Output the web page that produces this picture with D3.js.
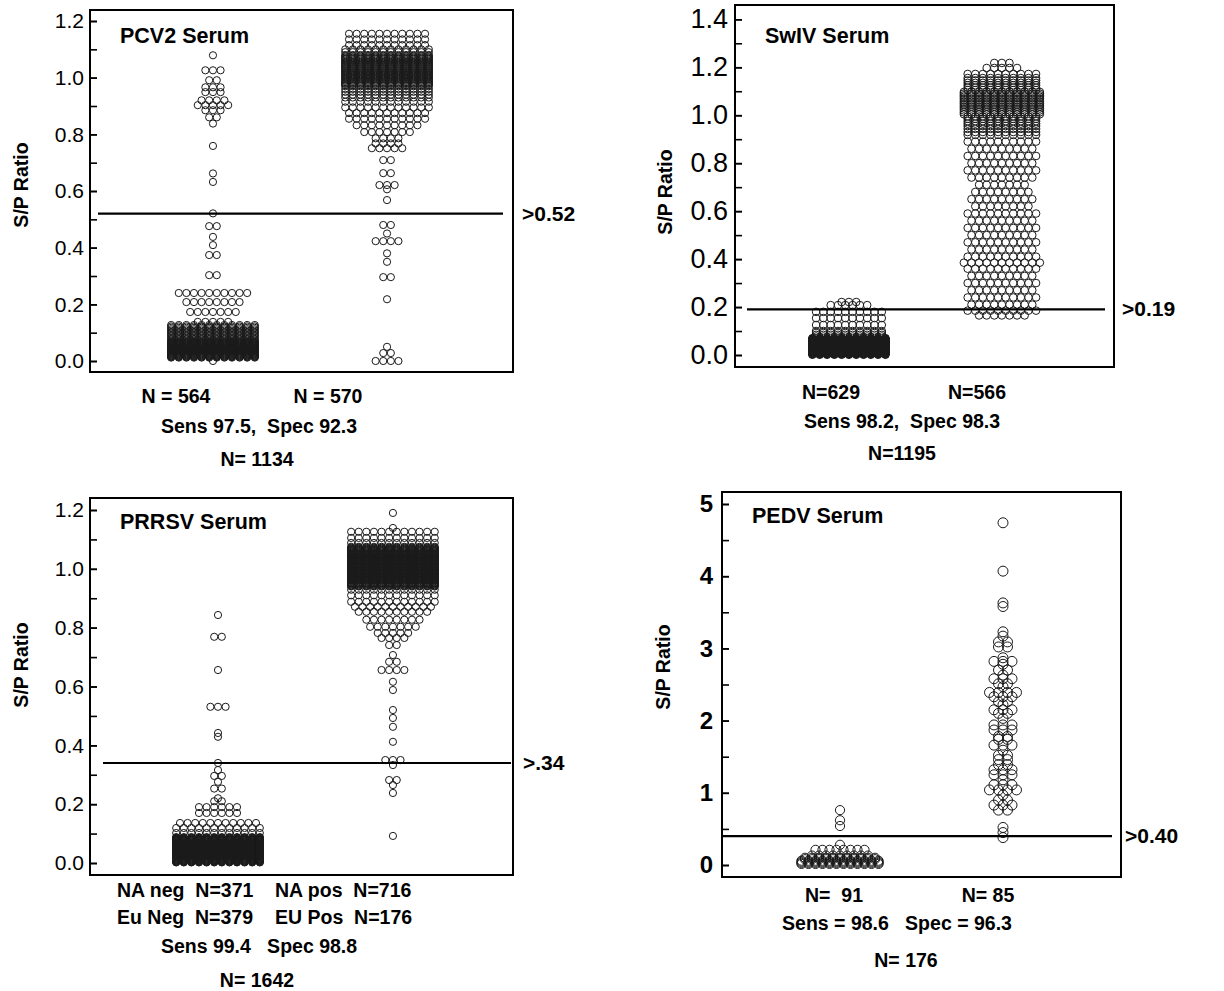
<!DOCTYPE html>
<html>
<head>
<meta charset="utf-8">
<script src="https://cdn.jsdelivr.net/npm/d3@7"></script>
<style>
body { margin: 0; background: #fff; }
text { font-family: "Liberation Sans", Arial, sans-serif; fill: #000; }
</style>
</head>
<body>
<svg id="chart" width="1224" height="991"></svg>
<script>
// each group is a list of [S/P value, number of samples at that value]
// (rows; dense bands are estimated row by row)

// ---- PCV2 ----
var pcv2Cats = ["neg", "pos"];
var pcv2Neg = [
  [1.079,1],[1.026,3],[0.991,2],[0.966,3],[0.949,3],[0.920,4],[0.903,5],[0.885,3],[0.860,2],[0.838,1],
  [0.759,1],[0.662,1],[0.632,1],[0.521,1],[0.476,2],[0.438,1],[0.409,1],[0.374,2],[0.303,2],
  [0.240,10],[0.208,8],[0.173,7],[0.138,5],
  [0.127,12],[0.122,12],[0.117,12],[0.112,12],[0.107,12],[0.102,12],[0.097,12],[0.092,12],[0.087,12],[0.082,12],[0.077,12],[0.072,12],
  [0.068,12],[0.066,12],[0.064,12],[0.062,12],[0.060,12],[0.058,12],[0.056,12],[0.054,12],[0.052,12],[0.050,12],
  [0.048,12],[0.046,12],[0.044,12],[0.042,12],[0.040,12],[0.038,12],[0.036,12],[0.034,12],[0.032,12],[0.030,12],
  [0.028,12],[0.026,12],[0.024,12],[0.022,12],[0.020,12],[0.018,12],[0.016,12],[0.014,12],[0.012,12],
  [0.000,1]
];
var pcv2Pos = [
  [0.000,4],[0.028,2],[0.050,1],[0.218,1],[0.296,2],[0.350,1],[0.380,1],[0.423,4],[0.450,1],[0.480,2],
  [0.568,1],[0.606,1],[0.621,3],[0.663,2],[0.709,2],[0.751,5],[0.768,4],[0.786,4],[0.808,7],[0.832,9],
  [0.855,11],[0.875,11],[0.895,12],[0.915,12],[0.930,12],[0.940,12],[0.950,12],[0.960,12],
  [0.970,12],[0.974,12],[0.978,12],[0.981,12],[0.985,12],[0.989,12],[0.993,12],[0.996,12],[1.000,12],[1.004,12],
  [1.008,12],[1.011,12],[1.015,12],[1.019,12],[1.023,12],[1.026,12],[1.030,12],[1.034,12],[1.038,12],[1.041,12],
  [1.045,12],[1.049,12],[1.053,12],[1.056,12],[1.060,12],[1.064,12],[1.068,12],[1.071,12],[1.075,12],
  [1.080,12],[1.090,12],[1.100,12],[1.115,11],[1.135,11],[1.155,11]
];
var pcv2Minor = [0,0.1,0.2,0.3,0.4,0.5,0.6,0.7,0.8,0.9,1.0,1.1,1.2];
var pcv2Major = [0,0.2,0.4,0.6,0.8,1.0,1.2];
var pcv2Cut = 0.52;
var pcv2Notes = ["N = 564", "N = 570", "Sens 97.5,  Spec 92.3", "N= 1134"];

// ---- SwIV ----
var swivCats = ["neg", "pos"];
var swivNeg = [
  [0.221,3],[0.208,6],[0.180,10],[0.154,10],[0.125,10],[0.100,10],[0.092,10],[0.084,10],[0.077,10],
  [0.070,11],[0.069,11],[0.067,11],[0.066,11],[0.064,11],[0.063,11],[0.062,11],[0.060,11],[0.059,11],[0.057,11],
  [0.056,11],[0.055,11],[0.053,11],[0.052,11],[0.050,11],[0.049,11],[0.048,11],[0.046,11],[0.045,11],[0.043,11],
  [0.042,11],[0.041,11],[0.039,11],[0.038,11],[0.036,11],[0.035,11],[0.034,11],[0.032,11],[0.031,11],[0.029,11],
  [0.028,11],[0.027,11],[0.025,11],[0.024,11],[0.022,11],[0.021,11],[0.020,11],[0.018,11],[0.017,11],[0.015,11],
  [0.014,11],[0.013,11],[0.011,11],[0.010,11],[0.008,11],[0.007,11],[0.006,11],[0.004,11],[0.003,11],[0.001,11]
];
var swivPos = [
  [0.165,7],[0.185,10],[0.210,9],[0.240,10],[0.270,9],[0.300,10],[0.330,9],[0.360,10],[0.385,11],[0.410,10],
  [0.440,9],[0.470,10],[0.500,9],[0.530,10],[0.560,9],[0.590,10],[0.620,8],[0.650,9],[0.680,8],[0.710,7],
  [0.740,9],[0.770,10],[0.800,9],[0.830,10],[0.860,9],[0.890,10],
  [0.918,10],[0.930,10],[0.943,10],[0.955,10],[0.965,10],[0.975,10],[0.985,10],[0.995,10],[1.004,11],[1.012,11],
  [1.020,11],[1.028,11],[1.035,11],[1.042,11],[1.049,11],[1.056,11],[1.063,11],[1.070,11],[1.077,11],[1.083,11],
  [1.090,11],[1.097,11],[1.105,10],[1.115,10],[1.125,10],[1.135,10],[1.145,10],[1.155,10],[1.172,10],[1.197,5],[1.218,3]
];
var swivMinor = [0,0.1,0.2,0.3,0.4,0.5,0.6,0.7,0.8,0.9,1.0,1.1,1.2,1.3,1.4];
var swivMajor = [0,0.2,0.4,0.6,0.8,1.0,1.2,1.4];
var swivCut = 0.19;
var swivNotes = ["N=629", "N=566", "Sens 98.2,  Spec 98.3", "N=1195"];

// ---- PRRSV ----
var prrsvCats = ["neg", "pos"];
var prrsvNeg = [
  [0.843,1],[0.769,2],[0.656,1],[0.531,3],[0.442,1],[0.429,1],
  [0.340,1],[0.316,1],[0.296,2],[0.276,1],[0.253,2],[0.220,1],[0.210,2],[0.190,6],[0.170,6],
  [0.136,11],[0.119,12],[0.102,12],
  [0.088,12],[0.086,12],[0.085,12],[0.083,12],[0.082,12],[0.080,12],[0.079,12],[0.077,12],[0.076,12],[0.074,12],
  [0.073,12],[0.071,12],[0.069,12],[0.068,12],[0.066,12],[0.065,12],[0.063,12],[0.062,12],[0.060,12],[0.059,12],
  [0.057,12],[0.056,12],[0.054,12],[0.053,12],[0.051,12],[0.049,12],[0.048,12],[0.046,12],[0.045,12],[0.043,12],
  [0.042,12],[0.040,12],[0.039,12],[0.037,12],[0.036,12],[0.034,12],[0.032,12],[0.031,12],[0.029,12],[0.028,12],
  [0.026,12],[0.025,12],[0.023,12],[0.022,12],[0.020,12],[0.019,12],[0.017,12],[0.015,12],[0.014,12],[0.012,12],
  [0.011,12],[0.009,12],[0.008,12],[0.006,12],[0.005,12],[0.003,12],[0.002,12]
];
var prrsvPos = [
  [0.092,1],[0.238,1],[0.265,1],[0.282,2],[0.333,1],[0.350,3],[0.412,1],[0.463,1],[0.493,1],[0.520,1],
  [0.588,1],[0.616,1],[0.656,4],[0.684,2],[0.707,1],[0.741,2],[0.765,4],[0.782,5],[0.803,7],[0.827,8],
  [0.854,10],[0.871,11],[0.888,12],[0.910,12],[0.929,12],
  [0.940,12],[0.942,12],[0.944,12],[0.947,12],[0.949,12],[0.951,12],[0.953,12],[0.955,12],[0.958,12],[0.960,12],
  [0.962,12],[0.964,12],[0.966,12],[0.969,12],[0.971,12],[0.973,12],[0.975,12],[0.977,12],[0.980,12],[0.982,12],
  [0.984,12],[0.986,12],[0.988,12],[0.991,12],[0.993,12],[0.995,12],[0.997,12],[0.999,12],[1.002,12],[1.004,12],
  [1.006,12],[1.008,12],[1.010,12],[1.013,12],[1.015,12],[1.017,12],[1.019,12],[1.021,12],[1.024,12],[1.026,12],
  [1.028,12],[1.030,12],[1.032,12],[1.035,12],[1.037,12],[1.039,12],[1.041,12],[1.043,12],[1.046,12],[1.048,12],
  [1.050,12],[1.052,12],[1.054,12],[1.057,12],[1.059,12],[1.061,12],[1.063,12],[1.065,12],[1.068,12],[1.070,12],
  [1.072,12],[1.075,12],
  [1.088,12],[1.105,12],[1.126,12],[1.139,1],[1.190,1]
];
var prrsvMinor = pcv2Minor;
var prrsvMajor = pcv2Major;
var prrsvCut = 0.34;
var prrsvNotes = ["NA neg  N=371", "NA pos  N=716", "Eu Neg  N=379", "EU Pos  N=176", "Sens 99.4   Spec 98.8", "N= 1642"];

// ---- PEDV ----
var pedvCats = ["neg", "pos"];
var pedvNeg = [
  [0.76,1],[0.62,1],[0.54,1],[0.28,1],[0.21,8],[0.13,9],[0.10,11],[0.08,11],
  [0.06,12],[0.045,12],[0.03,12],[0.015,12]
];
var pedvPos = [
  [4.74,1],[4.07,1],[3.63,1],[3.58,1],[3.23,1],[3.17,1],[3.09,2],[3.02,2],[2.87,1],[2.82,3],
  [2.78,1],[2.70,2],[2.63,1],[2.58,3],[2.51,2],[2.47,1],[2.39,4],[2.33,3],[2.26,2],[2.22,1],
  [2.15,3],[2.10,2],[2.03,1],[1.94,3],[1.87,3],[1.78,2],[1.74,2],[1.66,3],[1.59,1],[1.52,2],
  [1.46,2],[1.39,2],[1.32,3],[1.25,3],[1.18,1],[1.11,3],[1.04,4],[0.97,1],[0.90,2],[0.83,3],
  [0.76,2],[0.52,1],[0.45,1],[0.38,1]
];
var pedvMinor = [0,0.5,1,1.5,2,2.5,3,3.5,4,4.5,5];
var pedvMajor = [0,1,2,3,4,5];
var pedvCut = 0.40;
var pedvNotes = ["N=  91", "N= 85", "Sens = 98.6   Spec = 96.3", "N= 176"];

var yTitle = "S/P Ratio";

var svg = d3.select("#chart");
var f1 = d3.format(".1f"), f0 = d3.format("d");

// layout for each panel
var panels = [
  { title: "PCV2 Serum", titleXY: [120, 43], box: [90, 10, 513, 372], yDom: [0, 1.2], yRng: [361, 21],
    cats: pcv2Cats, groups: [pcv2Neg, pcv2Pos], pad: 0.715, align: 0.494, dx: [7.6, 7.6], r: [3.6, 3.6],
    minor: pcv2Minor, major: pcv2Major, fmt: f1, lab: { size: 21, weight: "normal", fam: null, pad: 6 },
    cut: pcv2Cut, cutText: ">0.52", cutLine: [98, 503], cutX: 522,
    yTitleXY: [28, 185],
    notes: pcv2Notes, notePos: [[176, 403, "middle"], [328, 403, "middle"], [259, 433, "middle"], [257, 466, "middle"]] },
  { title: "SwIV Serum", titleXY: [765, 43], box: [735, 5, 1114, 367], yDom: [0, 1.4], yRng: [355, 19.3],
    cats: swivCats, groups: [swivNeg, swivPos], pad: 0.739, align: 0.504, dx: [7.3, 7.6], r: [3.8, 3.8],
    minor: swivMinor, major: swivMajor, fmt: f1, lab: { size: 27, weight: "normal", fam: null, pad: 7 },
    cut: swivCut, cutText: ">0.19", cutLine: [747, 1105], cutX: 1122,
    yTitleXY: [672, 192],
    notes: swivNotes, notePos: [[831, 399, "middle"], [977, 399, "middle"], [902, 428, "middle"], [902, 460, "middle"]] },
  { title: "PRRSV Serum", titleXY: [120, 529], box: [90, 498, 513, 875], yDom: [0, 1.2], yRng: [863, 510],
    cats: prrsvCats, groups: [prrsvNeg, prrsvPos], pad: 0.709, align: 0.516, dx: [7.6, 7.6], r: [3.6, 3.6],
    minor: prrsvMinor, major: prrsvMajor, fmt: f1, lab: { size: 21, weight: "normal", fam: null, pad: 6 },
    cut: prrsvCut, cutText: ">.34", cutLine: [103, 511], cutX: 523,
    yTitleXY: [28, 665],
    notes: prrsvNotes, notePos: [[117, 897, "start"], [275, 897, "start"], [117, 924, "start"], [275, 924, "start"], [259, 953, "middle"], [257, 987, "middle"]] },
  { title: "PEDV Serum", titleXY: [752, 523], box: [722, 492, 1121, 877], yDom: [0, 5], yRng: [865, 504],
    cats: pedvCats, groups: [pedvNeg, pedvPos], pad: 0.724, align: 0.5, dx: [7, 9], r: [4.6, 5],
    minor: pedvMinor, major: pedvMajor, fmt: f0, lab: { size: 24, weight: "bold", fam: "'Liberation Sans Narrow', 'Liberation Sans', Arial, sans-serif", pad: 9 },
    cut: pedvCut, cutText: ">0.40", cutLine: [723, 1112], cutX: 1125,
    yTitleXY: [670, 667],
    notes: pedvNotes, notePos: [[834, 902, "middle"], [988, 902, "middle"], [897, 930, "middle"], [906, 967, "middle"]] }
];

function drawPanel(p) {
  var g = svg.append("g");
  var b = p.box;
  var x = d3.scalePoint().domain(p.cats).range([b[0], b[2]]).padding(p.pad).align(p.align);
  var y = d3.scaleLinear().domain(p.yDom).range(p.yRng);

  // hollow dots, one row per value, centred on the group
  p.groups.forEach(function(rows, i) {
    var cx = x(p.cats[i]);
    var pts = [];
    rows.forEach(function(r) {
      for (var k = 0; k < r[1]; k++) pts.push({ v: r[0], k: k - (r[1] - 1) / 2 });
    });
    g.append("g").selectAll("circle")
      .data(pts)
      .join("circle")
      .attr("cx", function(d) { return cx + d.k * p.dx[i]; })
      .attr("cy", function(d) { return y(d.v); })
      .attr("r", p.r[i])
      .attr("fill", "none")
      .attr("stroke", "#1a1a1a")
      .attr("stroke-width", 1);
  });

  // cutoff line
  g.append("line")
    .attr("x1", p.cutLine[0]).attr("x2", p.cutLine[1])
    .attr("y1", y(p.cut)).attr("y2", y(p.cut))
    .attr("stroke", "#000").attr("stroke-width", 2.2);
  g.append("text")
    .attr("x", p.cutX).attr("y", y(p.cut) + 7)
    .attr("font-size", 21).attr("font-weight", "bold")
    .text(p.cutText);

  // frame
  g.append("rect")
    .attr("x", b[0]).attr("y", b[1])
    .attr("width", b[2] - b[0]).attr("height", b[3] - b[1])
    .attr("fill", "none").attr("stroke", "#000").attr("stroke-width", 2);

  // ticks point inwards, labels outside
  var minor = g.append("g").attr("transform", "translate(" + b[0] + ",0)")
    .call(d3.axisLeft(y).tickValues(p.minor).tickSize(-7).tickFormat(""));
  var major = g.append("g").attr("transform", "translate(" + b[0] + ",0)")
    .call(d3.axisLeft(y).tickValues(p.major).tickSize(-7).tickPadding(p.lab.pad).tickFormat(p.fmt));
  g.selectAll(".domain").remove();
  g.selectAll(".tick line").attr("stroke", "#000").attr("stroke-width", 1.6);
  major.attr("font-size", p.lab.size).attr("font-family", null);
  major.selectAll("text")
    .attr("fill", "#000")
    .attr("font-weight", p.lab.weight)
    .style("font-family", p.lab.fam);

  // titles
  g.append("text")
    .attr("x", p.titleXY[0]).attr("y", p.titleXY[1])
    .attr("font-size", 21.5).attr("font-weight", "bold")
    .text(p.title);
  g.append("text")
    .attr("transform", "translate(" + p.yTitleXY[0] + "," + p.yTitleXY[1] + ") rotate(-90)")
    .attr("text-anchor", "middle")
    .attr("font-size", 19.5).attr("font-weight", "bold")
    .text(yTitle);

  // counts and accuracy under the panel
  g.selectAll(".note")
    .data(p.notes)
    .join("text")
    .attr("class", "note")
    .attr("x", function(d, i) { return p.notePos[i][0]; })
    .attr("y", function(d, i) { return p.notePos[i][1]; })
    .attr("text-anchor", function(d, i) { return p.notePos[i][2]; })
    .attr("font-size", 19.5).attr("font-weight", "bold")
    .style("white-space", "pre")
    .text(function(d) { return d; });
}

panels.forEach(drawPanel);
</script>
</body>
</html>
